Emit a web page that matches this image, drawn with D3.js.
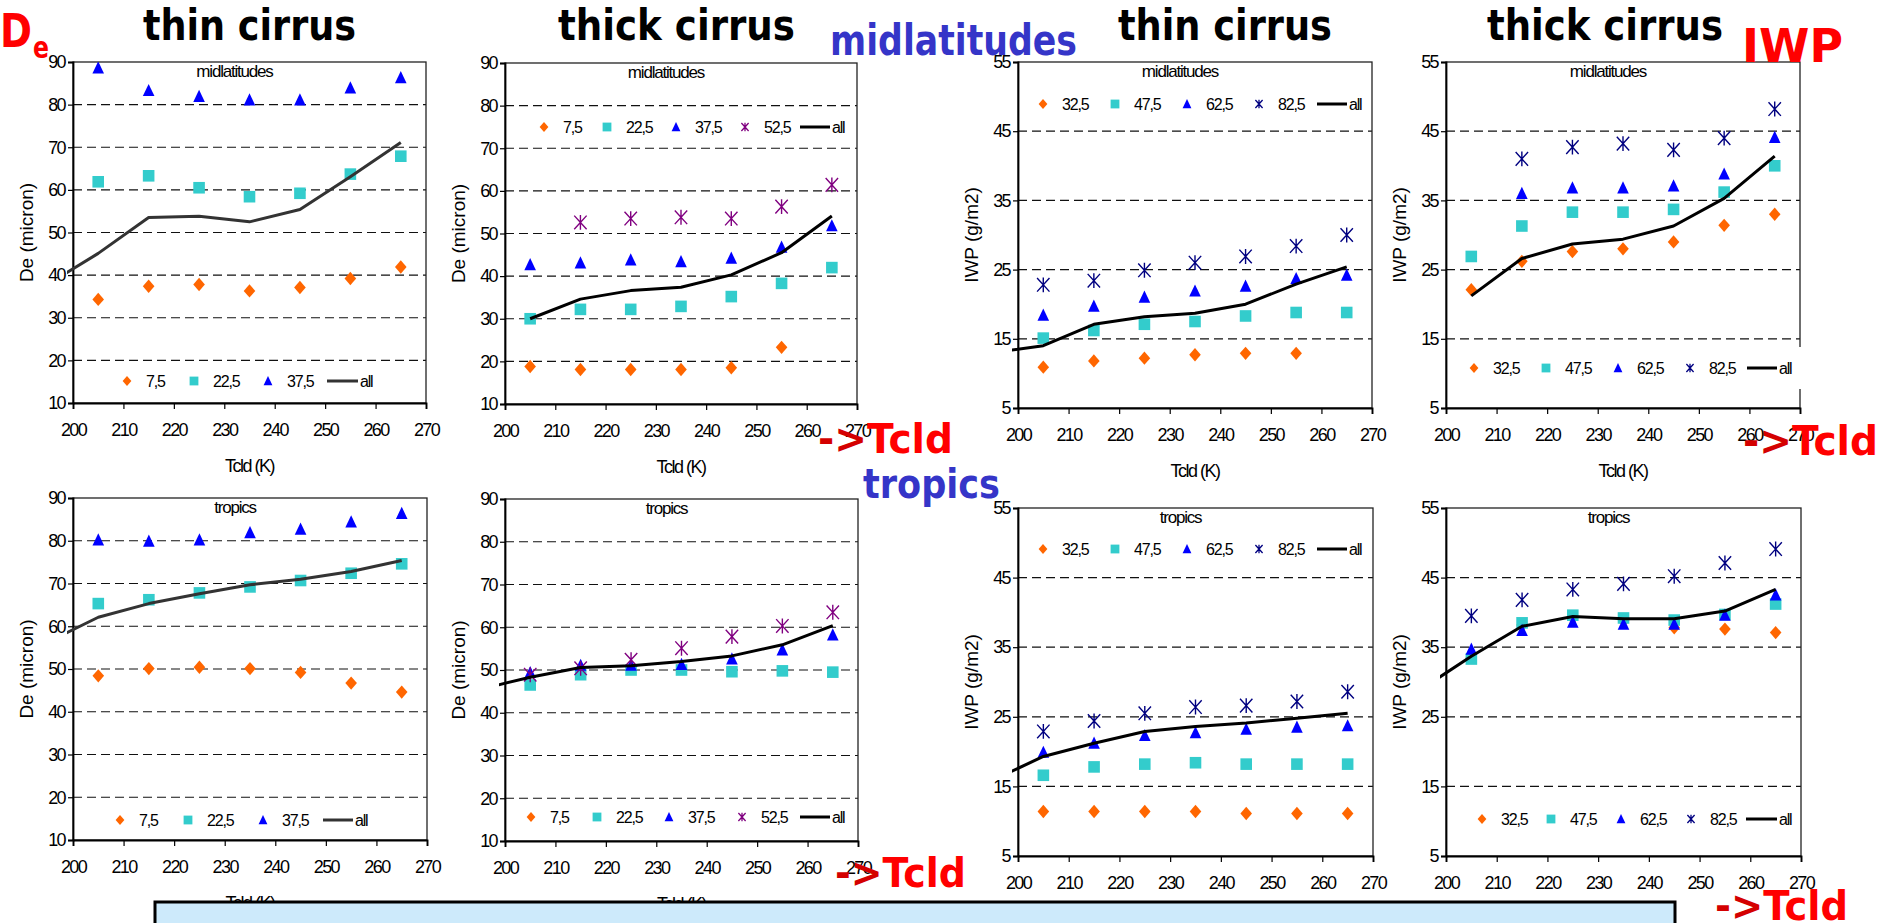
<!DOCTYPE html>
<html><head><meta charset="utf-8">
<script src="https://cdn.jsdelivr.net/npm/d3@7"></script>
<style>body{margin:0;background:#fff}svg{display:block}</style>
</head><body>
<script>
// Cloud-top temperature bins (K)
const tcld = [205, 215, 225, 235, 245, 255, 265];
// The "all" curve also has a 195 K bin, left of the axis (clipped)
const tcldLine = [195, 205, 215, 225, 235, 245, 255, 265];
const xTicks = [200, 210, 220, 230, 240, 250, 260, 270];
const deTicks = [10, 20, 30, 40, 50, 60, 70, 80, 90];
const iwpTicks = [5, 15, 25, 35, 45, 55];

// Legend labels (bin centres)
const deBinsThin = ["7,5", "22,5", "37,5"];
const deBinsThick = ["7,5", "22,5", "37,5", "52,5"];
const iwpBins = ["32,5", "47,5", "62,5", "82,5"];

// De (micron) - thin cirrus, midlatitudes
const deMidThin_7 = [34.3, 37.4, 37.8, 36.3, 37.1, 39.2, 41.9];
const deMidThin_22 = [61.9, 63.3, 60.5, 58.4, 59.2, 63.7, 67.9];
const deMidThin_37 = [88.6, 83.3, 81.9, 81.1, 81.1, 83.9, 86.3];
const deMidThin_all = [37.9, 45.1, 53.5, 53.8, 52.5, 55.4, 63.1, 71.1];

// De (micron) - thick cirrus, midlatitudes
const deMidThick_7 = [18.8, 18.1, 18.1, 18.1, 18.5, 23.3, null];
const deMidThick_22 = [30.0, 32.2, 32.2, 32.9, 35.2, 38.3, 42.0];
const deMidThick_37 = [42.7, 43.1, 43.8, 43.4, 44.2, 46.8, 51.8];
const deMidThick_52 = [null, 52.6, 53.5, 53.8, 53.5, 56.3, 61.4];
const deMidThick_all = [null, 30.0, 34.6, 36.6, 37.4, 40.3, 45.5, 54.1];

// IWP (g/m2) - thin cirrus, midlatitudes
const iwpMidThin_32 = [10.9, 11.8, 12.2, 12.7, 12.9, 12.9, null];
const iwpMidThin_47 = [15.1, 16.2, 17.1, 17.5, 18.3, 18.8, 18.8];
const iwpMidThin_62 = [18.4, 19.7, 21.0, 21.9, 22.6, 23.7, 24.2];
const iwpMidThin_82 = [22.8, 23.4, 24.9, 26.0, 26.9, 28.4, 30.0];
const iwpMidThin_all = [13.0, 14.0, 17.1, 18.2, 18.7, 20.0, 22.9, 25.4];

// IWP (g/m2) - thick cirrus, midlatitudes
const iwpMidThick_32 = [22.1, 26.2, 27.6, 28.0, 29.0, 31.4, 33.0];
const iwpMidThick_47 = [26.9, 31.3, 33.3, 33.3, 33.7, 36.2, 40.0];
const iwpMidThick_62 = [null, 36.0, 36.8, 36.8, 37.1, 38.8, 44.1];
const iwpMidThick_82 = [null, 41.0, 42.7, 43.2, 42.3, 44.0, 48.2];
const iwpMidThick_all = [null, 21.2, 26.6, 28.7, 29.4, 31.3, 35.3, 41.4];

// De (micron) - thin cirrus, tropics
const deTropThin_7 = [48.4, 50.1, 50.4, 50.1, 49.2, 46.7, 44.6];
const deTropThin_22 = [65.3, 66.2, 67.8, 69.2, 70.7, 72.4, 74.6];
const deTropThin_37 = [80.2, 79.9, 80.2, 81.9, 82.7, 84.4, 86.4];
const deTropThin_all = [56.3, 62.1, 65.3, 67.6, 69.7, 71.0, 72.8, 75.4];

// De (micron) - thick cirrus, tropics
const deTropThick_7 = [null, null, null, null, null, null, null];
const deTropThick_22 = [46.5, 48.9, 50.0, 50.0, 49.6, 49.8, 49.5];
const deTropThick_37 = [49.4, 51.1, 51.1, 51.3, 52.6, 54.7, 58.2];
const deTropThick_52 = [48.9, 50.4, 52.4, 55.1, 57.8, 60.3, 63.5];
const deTropThick_all = [45.5, 48.3, 50.6, 51.0, 52.0, 53.3, 55.9, 60.4];

// IWP (g/m2) - thin cirrus, tropics
const iwpTropThin_32 = [11.4, 11.4, 11.4, 11.4, 11.1, 11.1, 11.1];
const iwpTropThin_47 = [16.6, 17.8, 18.2, 18.4, 18.2, 18.2, 18.2];
const iwpTropThin_62 = [19.9, 21.2, 22.3, 22.7, 23.2, 23.5, 23.7];
const iwpTropThin_82 = [22.9, 24.4, 25.5, 26.4, 26.6, 27.2, 28.6];
const iwpTropThin_all = [15.9, 19.3, 21.2, 22.9, 23.6, 24.1, 24.8, 25.5];

// IWP (g/m2) - thick cirrus, tropics
const iwpTropThick_32 = [33.5, 38.2, 39.2, 38.8, 37.8, 37.6, 37.1];
const iwpTropThick_47 = [33.3, 38.5, 39.6, 39.2, 38.9, 39.7, 41.2];
const iwpTropThick_62 = [34.7, 37.4, 38.6, 38.3, 38.3, 39.6, 42.5];
const iwpTropThick_82 = [39.5, 41.8, 43.3, 44.1, 45.2, 47.1, 49.1];
const iwpTropThick_all = [28.9, 33.7, 38.0, 39.4, 39.1, 39.1, 40.2, 43.3];

const W = 1882, H = 923;
const svg = d3.select("body").append("svg").attr("width", W).attr("height", H);
const defs = svg.append("defs");

const FONT = "'Liberation Sans', Arial, sans-serif";
const HAND = "'DejaVu Sans', sans-serif";

const markerColors = ["#ff6600", "#33cccc", "#0000ff"];

// marker shapes, r = half size
function markerPath(kind, r) {
  const p = d3.path();
  if (kind === 0) { // diamond
    p.moveTo(0, -r * 1.15); p.lineTo(r, 0); p.lineTo(0, r * 1.15); p.lineTo(-r, 0); p.closePath();
  } else if (kind === 1) { // square
    p.rect(-r, -r, 2 * r, 2 * r);
  } else if (kind === 2) { // triangle
    p.moveTo(0, -r * 1.15); p.lineTo(r, r * 0.95); p.lineTo(-r, r * 0.95); p.closePath();
  } else { // star: X with a vertical bar
    p.moveTo(-r, -r * 1.1); p.lineTo(r, r * 1.1);
    p.moveTo(r, -r * 1.1); p.lineTo(-r, r * 1.1);
    p.moveTo(0, -r * 1.2); p.lineTo(0, r * 1.2);
  }
  return p.toString();
}

const panels = [
  { box: [73, 62, 426, 403], y: [10, 90], ticks: deTicks, ytitle: "De (micron)", region: "midlatitudes",
    series: [deMidThin_7, deMidThin_22, deMidThin_37], all: deMidThin_all, bins: deBinsThin, starColor: "#800080",
    lineColor: "#333333", legend: { y: 381, xs: [127, 194, 268], line: [327, 358] } },
  { box: [505, 63, 857, 404], y: [10, 90], ticks: deTicks, ytitle: "De (micron)", region: "midlatitudes",
    series: [deMidThick_7, deMidThick_22, deMidThick_37, deMidThick_52], all: deMidThick_all, bins: deBinsThick, starColor: "#800080",
    lineColor: "#000", legend: { y: 127, xs: [544, 607, 676, 745], line: [800, 830] } },
  { box: [1018, 62, 1372, 408], y: [5, 55], ticks: iwpTicks, ytitle: "IWP (g/m2)", region: "midlatitudes",
    series: [iwpMidThin_32, iwpMidThin_47, iwpMidThin_62, iwpMidThin_82], all: iwpMidThin_all, bins: iwpBins, starColor: "#000080",
    lineColor: "#000", legend: { y: 104, xs: [1043, 1115, 1187, 1259], line: [1317, 1347] } },
  { box: [1446, 62, 1800, 408], y: [5, 55], ticks: iwpTicks, ytitle: "IWP (g/m2)", region: "midlatitudes",
    series: [iwpMidThick_32, iwpMidThick_47, iwpMidThick_62, iwpMidThick_82], all: iwpMidThick_all, bins: iwpBins, starColor: "#000080",
    lineColor: "#000", legend: { y: 368, xs: [1474, 1546, 1618, 1690], line: [1747, 1777], bg: true } },
  { box: [73, 498, 427, 840], y: [10, 90], ticks: deTicks, ytitle: "De (micron)", region: "tropics",
    series: [deTropThin_7, deTropThin_22, deTropThin_37], all: deTropThin_all, bins: deBinsThin, starColor: "#800080",
    lineColor: "#333333", legend: { y: 820, xs: [120, 188, 263], line: [323, 353] } },
  { box: [505, 499, 858, 841], y: [10, 90], ticks: deTicks, ytitle: "De (micron)", region: "tropics",
    series: [deTropThick_7, deTropThick_22, deTropThick_37, deTropThick_52], all: deTropThick_all, bins: deBinsThick, starColor: "#800080",
    lineColor: "#000", legend: { y: 817, xs: [531, 597, 669, 742], line: [800, 830] } },
  { box: [1018, 508, 1373, 856], y: [5, 55], ticks: iwpTicks, ytitle: "IWP (g/m2)", region: "tropics",
    series: [iwpTropThin_32, iwpTropThin_47, iwpTropThin_62, iwpTropThin_82], all: iwpTropThin_all, bins: iwpBins, starColor: "#000080",
    lineColor: "#000", legend: { y: 549, xs: [1043, 1115, 1187, 1259], line: [1317, 1347] } },
  { box: [1446, 508, 1801, 856], y: [5, 55], ticks: iwpTicks, ytitle: "IWP (g/m2)", region: "tropics",
    series: [iwpTropThick_32, iwpTropThick_47, iwpTropThick_62, iwpTropThick_82], all: iwpTropThick_all, bins: iwpBins, starColor: "#000080",
    lineColor: "#000", legend: { y: 819, xs: [1482, 1551, 1621, 1691], line: [1746, 1777] } }
];

panels.forEach((P, i) => {
  const [x0, y0, x1, y1] = P.box;
  const x = d3.scaleLinear().domain([200, 270]).range([x0, x1]);
  const y = d3.scaleLinear().domain(P.y).range([y1, y0]);
  const g = svg.append("g");
  const cx = (x0 + x1) / 2, cy = (y0 + y1) / 2;

  // dashed gridlines
  g.selectAll(".grid").data(P.ticks.slice(1, -1)).join("line")
    .attr("x1", x0).attr("x2", x1).attr("y1", d => y(d)).attr("y2", d => y(d))
    .attr("stroke", "#111").attr("stroke-width", 1.2).attr("stroke-dasharray", "9,5");

  // plot frame
  g.append("rect").attr("x", x0).attr("y", y0).attr("width", x1 - x0).attr("height", y1 - y0)
    .attr("fill", "none").attr("stroke", "#222").attr("stroke-width", 1.3);

  // axes
  const ay = g.append("g").attr("transform", `translate(${x0},0)`)
    .call(d3.axisLeft(y).tickValues(P.ticks).tickSize(5).tickPadding(3).tickFormat(d3.format("d")));
  const ax = g.append("g").attr("transform", `translate(0,${y1})`)
    .call(d3.axisBottom(x).tickValues(xTicks).tickSize(6).tickPadding(14).tickFormat(d3.format("d")));
  [ax, ay].forEach(a => {
    a.select(".domain").attr("stroke", "#000").attr("stroke-width", 1.8);
    a.selectAll(".tick line").attr("stroke", "#000").attr("stroke-width", 1.2);
    a.selectAll("text").attr("font-family", FONT).attr("font-size", 18)
      .attr("letter-spacing", "-1.6").attr("fill", "#000");
  });

  // axis titles
  g.append("text").attr("x", cx).attr("y", y1 + 69).attr("text-anchor", "middle")
    .attr("font-family", FONT).attr("font-size", 18).attr("letter-spacing", "-1.5").text("Tcld (K)");
  g.append("text").attr("transform", `translate(${x0 - 40},${cy}) rotate(-90)`)
    .attr("text-anchor", "middle").attr("font-family", FONT).attr("font-size", 19)
    .text(P.ytitle);

  // region label inside the plot
  g.append("text").attr("x", cx - 15).attr("y", y0 + 15).attr("text-anchor", "middle")
    .attr("font-family", FONT).attr("font-size", 17).attr("letter-spacing", "-1.2").text(P.region);

  // legend
  const L = P.legend;
  if (L.bg) {
    g.append("rect").attr("x", L.xs[0] - 12).attr("y", L.y - 21).attr("width", x1 + 4 - (L.xs[0] - 12))
      .attr("height", 42).attr("fill", "#fff");
  }
  P.bins.forEach((b, k) => {
    const col = k < 3 ? markerColors[k] : P.starColor;
    const m = g.append("path").attr("transform", `translate(${L.xs[k]},${L.y})`)
      .attr("d", markerPath(k, k === 3 ? 3.6 : 4.4));
    if (k === 3) m.attr("fill", "none").attr("stroke", col).attr("stroke-width", 1.3);
    else m.attr("fill", col);
    g.append("text").attr("x", L.xs[k] + 19).attr("y", L.y + 6).attr("font-family", FONT)
      .attr("font-size", 16).attr("letter-spacing", "-1.2").text(b);
  });
  g.append("line").attr("x1", L.line[0]).attr("x2", L.line[1]).attr("y1", L.y).attr("y2", L.y)
    .attr("stroke", P.lineColor).attr("stroke-width", 3);
  g.append("text").attr("x", L.line[1] + 2).attr("y", L.y + 6).attr("font-family", FONT)
    .attr("font-size", 16).attr("letter-spacing", "-1.2").text("all");

  // clip for the data marks
  const cid = "clip" + i;
  defs.append("clipPath").attr("id", cid).append("rect")
    .attr("x", x0 - 6).attr("y", y0).attr("width", x1 - x0 + 6).attr("height", y1 - y0);
  const d = g.append("g").attr("clip-path", `url(#${cid})`);

  P.series.forEach((vals, k) => {
    const col = k < 3 ? markerColors[k] : P.starColor;
    const pts = tcld.map((t, j) => [t, vals[j]]).filter(p => p[1] != null);
    const sel = d.selectAll(null).data(pts).join("path")
      .attr("transform", p => `translate(${x(p[0])},${y(p[1])})`)
      .attr("d", markerPath(k, k === 3 ? 6.2 : 5.8));
    if (k === 3) sel.attr("fill", "none").attr("stroke", col).attr("stroke-width", 1.4);
    else sel.attr("fill", col);
  });

  const linePts = tcldLine.map((t, j) => [t, P.all[j]]).filter(p => p[1] != null);
  d.append("path").datum(linePts)
    .attr("d", d3.line().x(p => x(p[0])).y(p => y(p[1])))
    .attr("fill", "none").attr("stroke", P.lineColor).attr("stroke-width", 3)
    .attr("stroke-linejoin", "round");
});

// hand-written annotations
function hand(txt, x, y, size, len, color) {
  return svg.append("text").attr("x", x).attr("y", y).attr("font-family", HAND)
    .attr("font-weight", "bold").attr("font-size", size).attr("fill", color)
    .attr("textLength", len).attr("lengthAdjust", "spacingAndGlyphs").text(txt);
}
hand("thin cirrus", 143, 40, 42, 213, "#000");
hand("thick cirrus", 558, 40, 42, 237, "#000");
hand("thin cirrus", 1118, 40, 42, 214, "#000");
hand("thick cirrus", 1487, 40, 42, 236, "#000");
hand("midlatitudes", 830, 55, 42, 247, "#3535c8");
hand("tropics", 863, 498, 40, 137, "#3535c8");
hand("IWP", 1742, 62, 46, 101, "#ff0000");
hand("D", 0, 47, 46, 32, "#ff0000");
hand("e", 33, 58, 30, 16, "#ff0000");

function arrowLabel(x, y, len) {
  const t = svg.append("text").attr("x", x).attr("y", y).attr("font-family", HAND)
    .attr("font-weight", "bold").attr("font-size", 40)
    .attr("textLength", len).attr("lengthAdjust", "spacingAndGlyphs");
  t.append("tspan").attr("fill", "#d40000").text("->");
  t.append("tspan").attr("fill", "#ff0000").text("Tcld");
}
arrowLabel(818, 453, 135);
arrowLabel(1743, 455, 135);
arrowLabel(835, 887, 131);
arrowLabel(1715, 920, 133);

// summary box along the bottom edge (its text runs below the visible area)
svg.append("rect").attr("x", 155).attr("y", 902).attr("width", 1520).attr("height", 60)
  .attr("fill", "#cdeafb").attr("stroke", "#000").attr("stroke-width", 3);
svg.append("text").attr("x", 180).attr("y", 956).attr("font-family", HAND)
  .attr("font-weight", "bold").attr("font-size", 42).attr("fill", "#111")
  .text("differences thin - thick cirrus larger in midlatitudes");
</script>
</body></html>
